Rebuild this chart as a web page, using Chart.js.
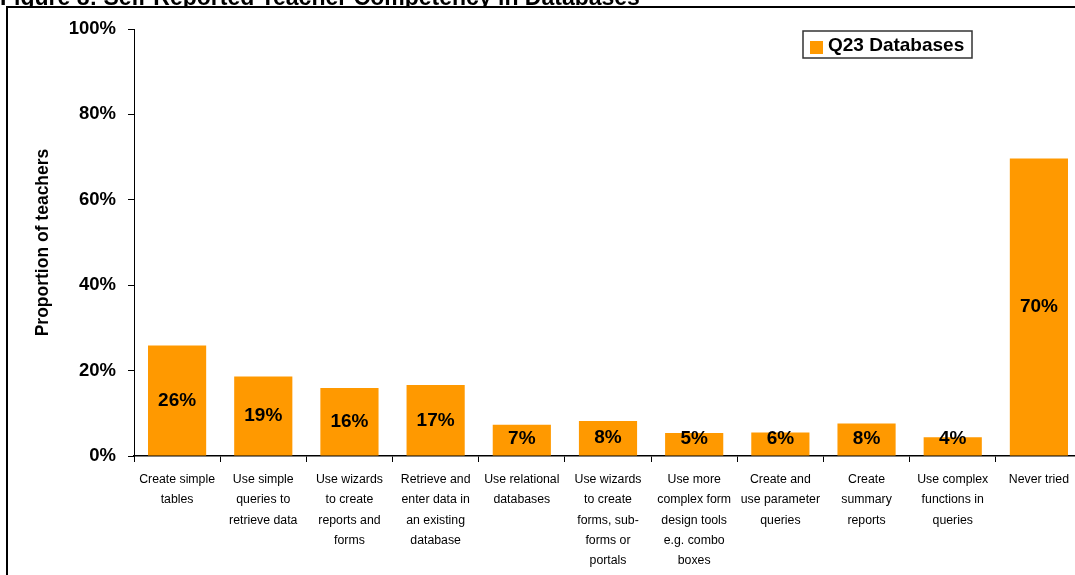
<!DOCTYPE html>
<html>
<head>
<meta charset="utf-8">
<script src="https://cdn.jsdelivr.net/npm/chart.js@4.4.1/dist/chart.umd.min.js"></script>
<style>
  html, body { margin: 0; padding: 0; background: #fff; overflow: hidden; }
  #wrap { width: 1090px; height: 575px; }
</style>
</head>
<body>
<div id="wrap"><canvas id="competencyChart" width="1090" height="575"></canvas></div>
<script>
const chartTitle = "Figure 8: Self-Reported Teacher Competency in Databases";
const seriesName = "Q23 Databases";
const barColor = "#FF9900";

const categories = [
    ["Create simple", "tables"],
    ["Use simple", "queries to", "retrieve data"],
    ["Use wizards", "to create", "reports and", "forms"],
    ["Retrieve and", "enter data in", "an existing", "database"],
    ["Use relational", "databases"],
    ["Use wizards", "to create", "forms, sub-", "forms or", "portals"],
    ["Use more", "complex form", "design tools", "e.g. combo", "boxes"],
    ["Create and", "use parameter", "queries"],
    ["Create", "summary", "reports"],
    ["Use complex", "functions in", "queries"],
    ["Never tried"]
];

// share of teachers (%) per skill
const proportions = [25.9, 18.6, 15.9, 16.6, 7.3, 8.2, 5.4, 5.5, 7.6, 4.4, 69.7];

const yTicks = [0, 20, 40, 60, 80, 100];

const FONT = "'Liberation Sans', Arial, sans-serif";

// page frame, cropped heading and boxed legend
const framePlugin = {
    id: 'frame',
    beforeDraw(chart) {
        const ctx = chart.ctx;
        ctx.save();
        ctx.fillStyle = '#fff';
        ctx.fillRect(0, 0, chart.width, chart.height);
        // heading sits above the frame, only its lower edge shows
        ctx.save();
        ctx.beginPath();
        ctx.rect(0, 0, chart.width, 6);
        ctx.clip();
        ctx.fillStyle = '#000';
        ctx.font = `bold 23px ${FONT}`;
        ctx.textBaseline = 'alphabetic';
        ctx.textAlign = 'left';
        ctx.fillText(chartTitle, 0, 4.5);
        ctx.restore();
        ctx.strokeStyle = '#000';
        ctx.lineWidth = 2;
        ctx.beginPath();
        ctx.moveTo(7, 575);
        ctx.lineTo(7, 7);
        ctx.lineTo(chart.width, 7);
        ctx.stroke();
        ctx.restore();
    },
    afterDraw(chart) {
        const ctx = chart.ctx;
        const ds = chart.data.datasets[0];
        ctx.save();
        ctx.fillStyle = '#fff';
        ctx.fillRect(803, 31, 169, 27);
        ctx.strokeStyle = '#333';
        ctx.lineWidth = 1.5;
        ctx.strokeRect(803, 31, 169, 27);
        ctx.fillStyle = ds.backgroundColor;
        ctx.fillRect(810, 41, 13, 13);
        ctx.fillStyle = '#000';
        ctx.font = `bold 19px ${FONT}`;
        ctx.textAlign = 'left';
        ctx.textBaseline = 'middle';
        ctx.fillText(ds.label, 828, 46);
        ctx.restore();
    }
};

// value labels centred in each bar, kept clear of the axis
const valueLabels = {
    id: 'valueLabels',
    afterDatasetsDraw(chart) {
        const ctx = chart.ctx;
        const meta = chart.getDatasetMeta(0);
        const data = chart.data.datasets[0].data;
        ctx.save();
        ctx.fillStyle = '#000';
        ctx.font = `bold 19px ${FONT}`;
        ctx.textAlign = 'center';
        ctx.textBaseline = 'middle';
        meta.data.forEach((bar, i) => {
            const y = Math.min((bar.y + bar.base) / 2, bar.base - 17);
            ctx.fillText(Math.round(data[i]) + '%', bar.x, y);
        });
        ctx.restore();
    }
};

const ctx = document.getElementById('competencyChart').getContext('2d');
new Chart(ctx, {
    type: 'bar',
    data: {
        labels: categories,
        datasets: [{
            label: seriesName,
            data: proportions,
            backgroundColor: barColor,
            borderWidth: 0,
            categoryPercentage: 1,
            barPercentage: 0.675
        }]
    },
    options: {
        responsive: false,
        animation: false,
        devicePixelRatio: 1,
        layout: { padding: { top: 29, right: 8, bottom: 0, left: 0 } },
        plugins: {
            legend: { display: false },
            tooltip: { enabled: false }
        },
        scales: {
            x: {
                offset: true,
                grid: { display: true, drawOnChartArea: false, color: '#000', tickLength: 6, offset: true },
                border: { display: true, color: '#000', width: 1.5 },
                ticks: {
                    color: '#000',
                    font: { family: FONT, size: 12.3, lineHeight: 1.63 },
                    maxRotation: 0,
                    minRotation: 0,
                    autoSkip: false,
                    padding: 8
                },
                afterFit(scale) { scale.height = 119; }
            },
            y: {
                min: 0,
                max: 100,
                afterBuildTicks(scale) { scale.ticks = yTicks.map(v => ({ value: v })); },
                grid: { display: true, drawOnChartArea: false, color: '#000', tickLength: 6 },
                border: { display: true, color: '#000', width: 1 },
                ticks: {
                    color: '#000',
                    font: { family: FONT, size: 18.5, weight: 'bold' },
                    padding: 12,
                    callback: v => v + '%'
                },
                title: {
                    display: true,
                    text: 'Proportion of teachers',
                    color: '#000',
                    font: { family: FONT, size: 17.5, weight: 'bold' },
                    padding: { top: 33, bottom: 0 }
                },
                afterFit(scale) { scale.width = 134; }
            }
        }
    },
    plugins: [framePlugin, valueLabels]
});
</script>
</body>
</html>
